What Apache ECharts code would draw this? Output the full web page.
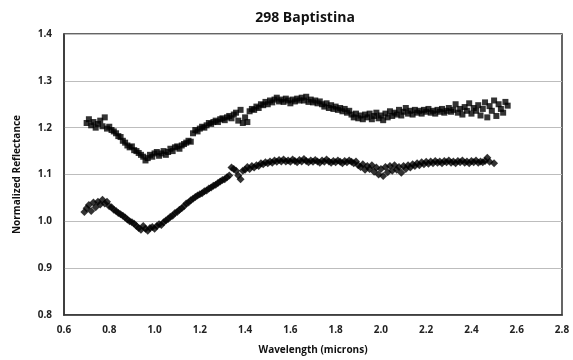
<!DOCTYPE html>
<html>
<head>
<meta charset="utf-8">
<script src="https://cdn.jsdelivr.net/npm/echarts@6/dist/echarts.min.js"></script>
<style>
html,body{margin:0;padding:0;background:#fff;}
#chart{width:573px;height:360px;}
</style>
</head>
<body>
<div id="chart"></div>
<script>
const titleText = '298 Baptistina';
const xName = 'Wavelength (microns)';
const yName = 'Normalized Reflectance';

const wavelength = [
0.69,0.70,0.71,0.72,0.73,0.74,0.75,0.76,0.77,0.78,0.79,
0.80,0.81,0.82,0.83,0.84,0.85,0.86,0.87,0.88,0.89,
0.90,0.91,0.92,0.93,0.94,0.95,0.96,0.97,0.98,0.99,
1.00,1.01,1.02,1.03,1.04,1.05,1.06,1.07,1.08,1.09,
1.10,1.11,1.12,1.13,1.14,1.15,1.16,1.17,1.18,1.19,
1.20,1.21,1.22,1.23,1.24,1.25,1.26,1.27,1.28,1.29,
1.30,1.31,1.32,1.33,1.34,1.35,1.36,1.37,1.38,1.39,
1.40,1.41,1.42,1.43,1.44,1.45,1.46,1.47,1.48,1.49,
1.50,1.51,1.52,1.53,1.54,1.55,1.56,1.57,1.58,1.59,
1.60,1.61,1.62,1.63,1.64,1.65,1.66,1.67,1.68,1.69,
1.70,1.71,1.72,1.73,1.74,1.75,1.76,1.77,1.78,1.79,
1.80,1.81,1.82,1.83,1.84,1.85,1.86,1.87,1.88,1.89,
1.90,1.91,1.92,1.93,1.94,1.95,1.96,1.97,1.98,1.99,
2.00,2.01,2.02,2.03,2.04,2.05,2.06,2.07,2.08,2.09,
2.10,2.11,2.12,2.13,2.14,2.15,2.16,2.17,2.18,2.19,
2.20,2.21,2.22,2.23,2.24,2.25,2.26,2.27,2.28,2.29,
2.30,2.31,2.32,2.33,2.34,2.35,2.36,2.37,2.38,2.39,
2.40,2.41,2.42,2.43,2.44,2.45,2.46,2.47,2.48,2.49,
2.50,2.51,2.52,2.53,2.54,2.55,2.56
];

// upper spectrum (squares)
const upperReflectance = [
null,1.210,1.218,1.205,1.212,1.200,1.208,1.215,1.203,1.222,1.198,
1.202,1.195,1.192,1.188,1.182,1.180,1.172,1.168,1.162,1.158,
1.160,1.152,1.150,1.146,1.142,1.138,1.130,1.135,1.142,1.138,
1.145,1.148,1.140,1.145,1.150,1.142,1.148,1.155,1.150,1.158,
1.160,1.155,1.162,1.165,1.168,1.172,1.170,1.188,1.195,1.192,
1.198,1.202,1.200,1.205,1.210,1.208,1.212,1.215,1.212,1.218,
1.220,1.216,1.222,1.225,1.220,1.228,1.232,1.215,1.238,1.210,
1.222,1.212,1.235,1.240,1.238,1.245,1.242,1.250,1.248,1.255,
1.250,1.258,1.254,1.260,1.264,1.256,1.260,1.255,1.262,1.258,
1.252,1.260,1.256,1.262,1.258,1.264,1.258,1.266,1.255,1.260,
1.254,1.258,1.252,1.256,1.250,1.245,1.252,1.242,1.248,1.240,
1.245,1.238,1.242,1.235,1.240,1.232,1.236,1.228,1.222,1.230,
1.220,1.226,1.218,1.228,1.222,1.230,1.218,1.225,1.232,1.220,
1.226,1.216,1.230,1.222,1.235,1.225,1.232,1.228,1.238,1.226,
1.234,1.242,1.230,1.236,1.228,1.238,1.232,1.236,1.230,1.238,
1.234,1.240,1.232,1.236,1.230,1.238,1.234,1.240,1.232,1.236,
1.242,1.234,1.238,1.250,1.232,1.240,1.228,1.244,1.236,1.252,
1.230,1.242,1.236,1.248,1.226,1.240,1.254,1.222,1.246,1.236,
1.258,1.225,1.250,1.240,1.232,1.255,1.247
];

// lower spectrum (diamonds)
const lowerReflectance = [
1.020,1.028,1.035,1.022,1.040,1.030,1.042,1.036,1.046,1.038,1.042,
1.032,1.030,1.025,1.022,1.018,1.015,1.012,1.008,1.004,1.000,
0.998,0.995,0.990,0.986,0.982,0.990,0.984,0.980,0.986,0.988,
0.984,0.990,0.994,0.992,0.998,1.002,1.005,1.010,1.012,1.018,
1.020,1.025,1.028,1.032,1.038,1.040,1.045,1.048,1.052,1.055,
1.058,1.060,1.064,1.066,1.070,1.072,1.076,1.078,1.082,1.085,
1.088,1.090,1.094,1.098,1.115,1.112,1.108,1.098,1.090,1.108,
1.110,1.116,1.112,1.118,1.115,1.120,1.118,1.124,1.122,1.126,
1.124,1.128,1.125,1.130,1.127,1.131,1.128,1.132,1.128,1.130,
1.127,1.132,1.129,1.126,1.131,1.128,1.133,1.129,1.126,1.130,
1.127,1.131,1.128,1.125,1.130,1.127,1.132,1.128,1.125,1.129,
1.126,1.130,1.127,1.124,1.129,1.126,1.130,1.127,1.124,1.128,
1.120,1.116,1.122,1.110,1.118,1.112,1.120,1.106,1.115,1.100,
1.112,1.097,1.116,1.105,1.118,1.108,1.120,1.110,1.116,1.104,
1.118,1.112,1.120,1.115,1.122,1.118,1.124,1.120,1.126,1.122,
1.127,1.123,1.128,1.124,1.129,1.125,1.128,1.124,1.129,1.126,
1.130,1.125,1.128,1.124,1.129,1.126,1.130,1.125,1.128,1.124,
1.129,1.126,1.130,1.125,1.128,1.126,1.129,1.136,1.127,null,
1.124,null,null,null,null,null,null
];

const xTicks = {min: 0.6, max: 2.8, interval: 0.2};
const yTicks = {min: 0.8, max: 1.4, interval: 0.1};

function pairs(ys) {
  const out = [];
  for (let i = 0; i < wavelength.length; i++) {
    if (ys[i] !== null && ys[i] !== undefined) out.push([wavelength[i], ys[i]]);
  }
  return out;
}

const font = '"Open Sans", "Liberation Sans", sans-serif';
const chart = echarts.init(document.getElementById('chart'), null, {renderer: 'canvas'});
chart.setOption({
  animation: false,
  backgroundColor: '#fff',
  title: {
    text: titleText,
    left: 300, textAlign: 'center', top: 6,
    textStyle: {fontFamily: font, fontSize: 14, fontWeight: 'bold', color: '#111'}
  },
  grid: {
    left: 64, right: 11, top: 34, bottom: 44,
    show: true, borderColor: '#333', borderWidth: 1.5, backgroundColor: 'transparent'
  },
  xAxis: {
    type: 'value', min: xTicks.min, max: xTicks.max, interval: xTicks.interval,
    name: xName, nameLocation: 'middle', nameGap: 30,
    nameTextStyle: {fontFamily: font, fontSize: 10, fontWeight: 'bold', color: '#111'},
    axisLine: {show: true, lineStyle: {color: '#333', width: 1.5}},
    axisTick: {show: false},
    splitLine: {show: false},
    axisLabel: {fontFamily: font, fontSize: 10, fontWeight: 'bold', color: '#222', margin: 10,
      formatter: v => v.toFixed(1)}
  },
  yAxis: {
    type: 'value', min: yTicks.min, max: yTicks.max, interval: yTicks.interval,
    name: yName, nameLocation: 'middle', nameGap: 42, nameRotate: 90,
    nameTextStyle: {fontFamily: font, fontSize: 10, fontWeight: 'bold', color: '#111'},
    axisLine: {show: true, lineStyle: {color: '#333', width: 1.5}},
    axisTick: {show: false},
    splitLine: {show: true, lineStyle: {color: '#bdbdbd', width: 1}},
    axisLabel: {fontFamily: font, fontSize: 10, fontWeight: 'bold', color: '#222', margin: 12,
      formatter: v => v.toFixed(1)}
  },
  series: [
    {
      type: 'scatter', name: 'upper', data: pairs(upperReflectance),
      symbol: 'rect', symbolSize: 6,
      itemStyle: {color: '#000'}
    },
    {
      type: 'scatter', name: 'lower', data: pairs(lowerReflectance),
      symbol: 'diamond', symbolSize: 8,
      itemStyle: {color: '#000'}
    }
  ]
});
</script>
</body>
</html>
